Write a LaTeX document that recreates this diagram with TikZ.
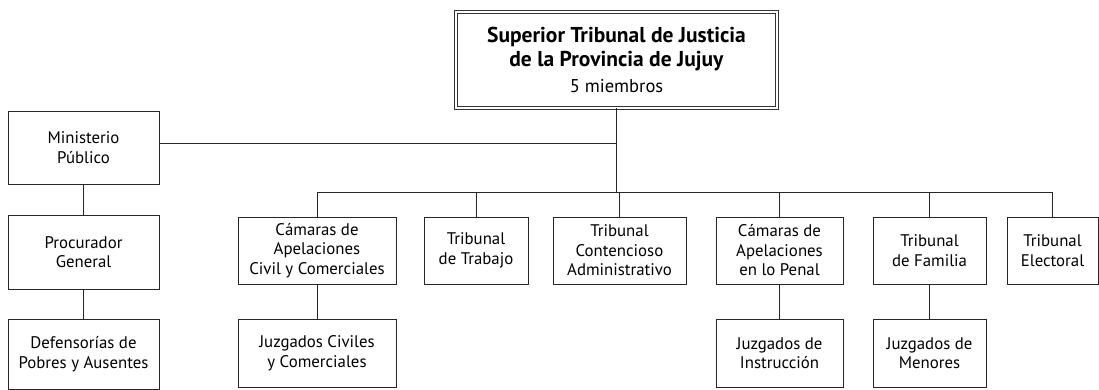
\documentclass[tikz,border=0pt]{standalone}
\usepackage{fontspec}
\setmainfont{PT Sans}
\begin{document}
\begin{tikzpicture}[x=1pt,y=1pt,
  box/.style={draw=black!85,line width=1pt,inner sep=0pt,align=center,font=\fontsize{16.8}{19.5}\selectfont},
  topbox/.style={draw=black!80,double=white,double distance=1.6pt,line width=0.9pt,inner sep=0pt,align=center,font=\fontsize{21.5}{23.5}\selectfont},
  link/.style={draw=black!85,line width=1pt}]
\useasboundingbox (0,0) rectangle (1099,389);
\node[topbox,minimum width=321,minimum height=96] (top) at (616.5,329) {\textbf{Superior Tribunal de Justicia}\\\textbf{de la Provincia de Jujuy}\\[3pt]{\fontsize{18.5}{20}\selectfont 5 miembros}};
\node[box,minimum width=151,minimum height=73] (min) at (83.5,241.5) {Ministerio\\Público};
\node[box,minimum width=151,minimum height=74] (proc) at (83.5,137) {Procurador\\General};
\node[box,minimum width=151,minimum height=70] (def) at (83.5,35) {Defensorías de\\Pobres y Ausentes};
\node[box,minimum width=158,minimum height=67] (cciv) at (317,138.5) {Cámaras de\\Apelaciones\\Civil y Comerciales};
\node[box,minimum width=104,minimum height=67] (trab) at (476,138.5) {Tribunal\\de Trabajo};
\node[box,minimum width=133,minimum height=67] (cont) at (619.5,138.5) {Tribunal\\Contencioso\\Administrativo};
\node[box,minimum width=127,minimum height=67] (cpen) at (779.5,138.5) {Cámaras de\\Apelaciones\\en lo Penal};
\node[box,minimum width=113,minimum height=67] (fam) at (929.5,138.5) {Tribunal\\de Familia};
\node[box,minimum width=91,minimum height=67] (elec) at (1052.5,138.5) {Tribunal\\Electoral};
\node[box,minimum width=158,minimum height=68] (jciv) at (317,36) {Juzgados Civiles\\y Comerciales};
\node[box,minimum width=127,minimum height=68] (jins) at (779.5,36) {Juzgados de\\Instrucción};
\node[box,minimum width=113,minimum height=68] (jmen) at (929.5,36) {Juzgados de\\Menores};
\coordinate (bus) at (0,197);
\coordinate (mline) at ([yshift=4pt]min.east);
\draw[link] (top.south) -- (top.south |- bus);
\draw[link] (mline) -- (top.south |- mline);
\draw[link] (cciv.north |- bus) -- (elec.north |- bus);
\foreach \n in {cciv,trab,cont,cpen,fam,elec}{\draw[link] (\n.north) -- (\n.north |- bus);}
\draw[link] (min) -- (proc);
\draw[link] (proc) -- (def);
\draw[link] (cciv) -- (jciv);
\draw[link] (cpen) -- (jins);
\draw[link] (fam) -- (jmen);
\end{tikzpicture}
\end{document}
